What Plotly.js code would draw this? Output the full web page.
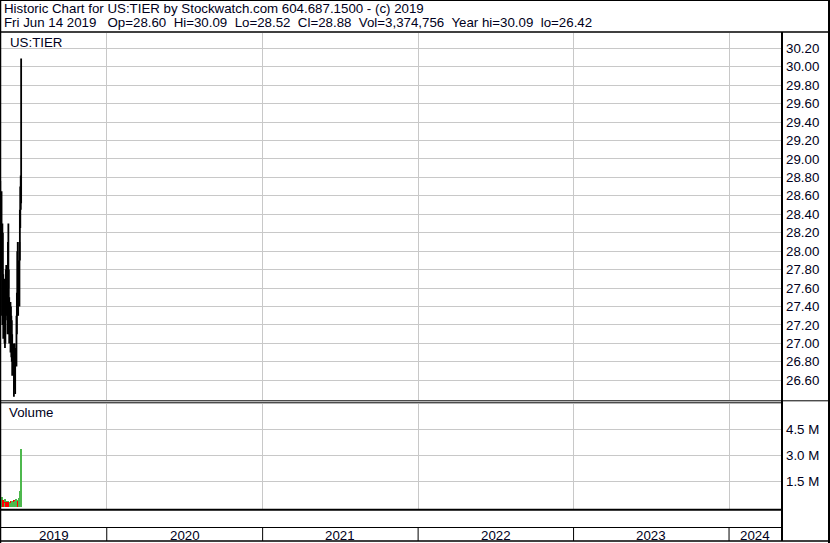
<!DOCTYPE html>
<html>
<head>
<meta charset="utf-8">
<script src="https://cdn.plot.ly/plotly-3.0.1.min.js"></script>
<style>
html,body{margin:0;padding:0;background:#fff;}
#chart{width:830px;height:543px;}
</style>
</head>
<body>
<div id="chart"></div>
<script>
// ---- data ----
const dates = ['2019-04-22','2019-04-23','2019-04-24','2019-04-25','2019-04-26','2019-04-29','2019-04-30','2019-05-01','2019-05-02','2019-05-03',
  '2019-05-06','2019-05-07','2019-05-08','2019-05-09','2019-05-10','2019-05-13','2019-05-14','2019-05-15','2019-05-16','2019-05-17',
  '2019-05-20','2019-05-21','2019-05-22','2019-05-23','2019-05-24','2019-05-28','2019-05-29','2019-05-30','2019-05-31','2019-06-03',
  '2019-06-04','2019-06-05','2019-06-06','2019-06-07','2019-06-10','2019-06-11','2019-06-12','2019-06-13','2019-06-14'];
const opens  = [28.60,28.70,28.40,28.10,28.30,28.60,27.93,27.40,28.12,27.60,27.20,27.55,27.10,27.40,27.70,27.45,27.23,27.95,27.70,27.30,
  27.15,27.35,27.05,27.20,26.90,26.92,26.60,26.75,26.70,26.85,27.25,27.45,27.80,27.55,27.45,28.00,28.35,28.60,28.60];
const highs  = [28.80,28.78,28.55,28.45,28.76,28.65,28.00,28.30,28.20,27.75,27.70,27.65,27.50,27.80,27.85,27.60,28.10,28.30,27.80,27.50,
  27.45,27.40,27.30,27.25,27.10,27.00,26.90,27.00,26.95,27.30,27.55,28.00,28.10,27.90,28.10,28.45,28.70,28.82,30.09];
const lows   = [28.40,28.30,28.00,27.90,28.10,27.80,27.30,27.20,27.50,27.05,27.00,26.95,27.00,27.25,27.30,27.10,27.20,27.60,27.10,27.00,
  26.90,26.95,26.85,26.80,26.65,26.42,26.50,26.55,26.45,26.75,27.10,27.30,27.40,27.30,27.40,27.90,28.25,28.45,28.52];
const closes = [28.70,28.40,28.10,28.30,28.60,27.93,27.40,28.12,27.60,27.20,27.55,27.10,27.40,27.70,27.45,27.23,27.95,27.70,27.30,27.15,
  27.35,27.05,27.20,26.90,26.92,26.60,26.75,26.70,26.85,27.25,27.45,27.80,27.55,27.45,28.00,28.35,28.60,28.60,28.88];
const volumes = [550000,500000,600000,500000,620000,450000,500000,600000,350000,400000,450000,300000,250000,350000,300000,200000,350000,300000,250000,300000,
  300000,350000,250000,300000,350000,400000,300000,300000,350000,450000,350000,400000,300000,350000,500000,950000,600000,1000000,3374756];
const priceTicks = [26.6,26.8,27.0,27.2,27.4,27.6,27.8,28.0,28.2,28.4,28.6,28.8,29.0,29.2,29.4,29.6,29.8,30.0,30.2];
const volTickVals = [1500000,3000000,4500000];
const volTickText = ['1.5 M','3.0 M','4.5 M'];
const years = ['2019','2020','2021','2022','2023','2024'];
const headerLine1 = 'Historic Chart for US:TIER by Stockwatch.com 604.687.1500 - (c) 2019';
const headerLine2 = 'Fri Jun 14 2019   Op=28.60  Hi=30.09  Lo=28.52  Cl=28.88  Vol=3,374,756  Year hi=30.09  lo=26.42';
const symbol = 'US:TIER';

// ---- layout helpers ----
const W = 830, H = 543;
const px = x => x / W;
const py = y => 1 - y / H;
const xRange = ['2019-04-27 17:00', '2024-05-02'];
const FONT = 'Liberation Sans, Arial, sans-serif';

const volColors = volumes.map((v, i) => {
  const prev = i === 0 ? opens[0] : closes[i - 1];
  if (closes[i] > prev) return '#4db84d';
  if (closes[i] < prev) return '#ff0000';
  return '#a0a0a0';
});

const traces = [
  {
    type: 'bar', x: dates, y: volumes, xaxis: 'x2', yaxis: 'y2',
    marker: {color: volColors, line: {width: 0}},
    width: 86400000 * 4.7, hoverinfo: 'skip'
  },
  {
    type: 'ohlc', x: dates, open: opens, high: highs, low: lows, close: closes,
    xaxis: 'x', yaxis: 'y',
    increasing: {line: {color: '#000000', width: 1.8}},
    decreasing: {line: {color: '#000000', width: 1.8}},
    tickwidth: 0.05, hoverinfo: 'skip'
  }
];

const shapes = [];
const line = (x0, y0, x1, y1, w) => shapes.push({type: 'line', xref: 'paper', yref: 'paper',
  x0: px(x0), y0: py(y0), x1: px(x1), y1: py(y1), line: {color: '#000', width: w}});
// outer frame
line(0.5, 0, 0.5, 543, 1.5);
line(829, 0, 829, 543, 2);
line(0, 0.5, 830, 0.5, 1);
line(0, 541, 830, 541, 1.5);
// header separator
line(0, 32, 830, 32, 1.5);
// axis column separator
line(782, 32, 782, 541, 2);
// double line between price and volume
line(0, 400.8, 782, 400.8, 1);
line(0, 402.8, 782, 402.8, 1);
line(782, 400.8, 830, 400.8, 1);
// volume bottom
line(0, 509.8, 782, 509.8, 2);
line(0, 527.5, 782, 527.5, 1);
// year separators in the label row
years.slice(1).forEach(y => shapes.push({type: 'line', xref: 'x', yref: 'paper',
  x0: y + '-01-01', x1: y + '-01-01', y0: py(527.5), y1: py(541), line: {color: '#000', width: 1}}));

const annotations = [];
const txt = (x, y, t, size, anchor) => annotations.push({xref: 'paper', yref: 'paper', x: px(x), y: py(y),
  text: t, showarrow: false, xanchor: anchor || 'left', yanchor: 'middle',
  font: {family: FONT, size: size, color: '#000020'}});
txt(2, 8.5, headerLine1, 13.3);
txt(2, 22, headerLine2, 13.3);
txt(8, 42, symbol, 13.3);
txt(7, 413, 'Volume', 13.3);

// year labels centred in the visible part of each year
const t0 = new Date(xRange[0].replace(' ', 'T') + 'Z').getTime();
const t1 = new Date(xRange[1] + 'T00:00:00Z').getTime();
years.forEach(y => {
  const a = Math.max(t0, Date.UTC(+y, 0, 1));
  const b = Math.min(t1, Date.UTC(+y + 1, 0, 1));
  const mid = new Date((a + b) / 2).toISOString().slice(0, 19).replace('T', ' ');
  annotations.push({xref: 'x', yref: 'paper', x: mid, y: py(535), text: y, showarrow: false,
    xanchor: 'center', yanchor: 'middle', font: {family: FONT, size: 13.3, color: '#000020'}});
});

const xCommon = {
  type: 'date', range: xRange, domain: [px(1), px(781)],
  tick0: '2019-01-01', dtick: 'M12', showticklabels: false, ticks: '',
  showgrid: true, gridcolor: '#c8c8c8', gridwidth: 1, zeroline: false, showline: false, fixedrange: true
};

const layout = {
  width: W, height: H,
  margin: {l: 0, r: 0, t: 0, b: 0},
  paper_bgcolor: '#ffffff', plot_bgcolor: '#ffffff',
  showlegend: false, bargap: 0,
  font: {family: FONT, size: 13.3, color: '#000020'},
  xaxis: Object.assign({}, xCommon, {anchor: 'y', rangeslider: {visible: false}}),
  xaxis2: Object.assign({}, xCommon, {anchor: 'y2', matches: 'x'}),
  yaxis: {
    domain: [py(400), py(33)], range: [26.386, 30.366], side: 'right', anchor: 'x',
    tickvals: priceTicks, tickformat: '.2f', ticks: '', ticklabelstandoff: 4,
    showgrid: true, gridcolor: '#c8c8c8', zeroline: false, showline: false, fixedrange: true,
    tickfont: {family: FONT, size: 13.3, color: '#000020'}
  },
  yaxis2: {
    domain: [py(509), py(404)], range: [-116000, 5977000], side: 'right', anchor: 'x2',
    tickvals: volTickVals, ticktext: volTickText, ticks: '', ticklabelstandoff: 4,
    showgrid: true, gridcolor: '#c8c8c8', zeroline: false, showline: false, fixedrange: true,
    tickfont: {family: FONT, size: 13.3, color: '#000020'}
  },
  shapes: shapes,
  annotations: annotations
};

Plotly.newPlot('chart', traces, layout, {staticPlot: true, displayModeBar: false});
</script>
</body>
</html>
